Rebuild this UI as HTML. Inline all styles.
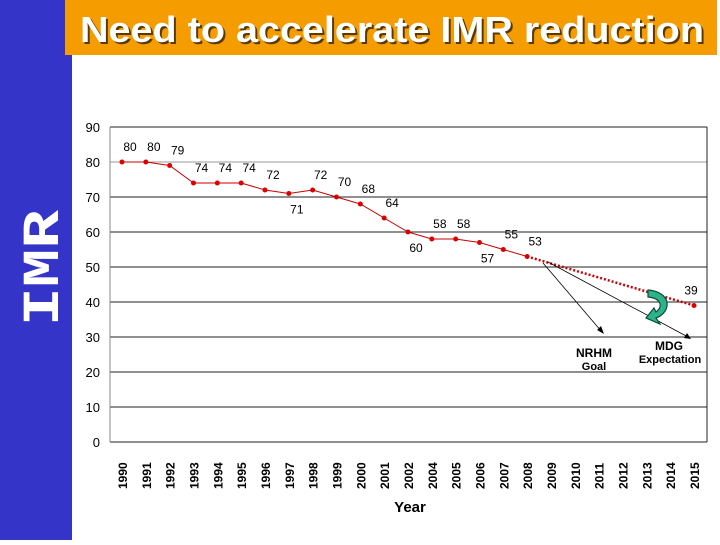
<!DOCTYPE html>
<html><head><meta charset="utf-8"><style>
body{margin:0;width:720px;height:540px;overflow:hidden;background:#fff;font-family:"Liberation Sans",sans-serif}
</style></head><body>
<svg width="720" height="540" viewBox="0 0 720 540">
<rect x="0" y="0" width="72" height="540" fill="#3434c8"/>
<rect x="65" y="0" width="652" height="55" fill="#f59c00"/>
<text x="82" y="44" font-size="36" font-weight="bold" fill="#5a3a00" textLength="624" lengthAdjust="spacingAndGlyphs">Need to accelerate IMR reduction</text>
<text x="80" y="42" font-size="36" font-weight="bold" fill="#fff" textLength="624" lengthAdjust="spacingAndGlyphs">Need to accelerate IMR reduction</text>
<text transform="translate(58,268) rotate(-90)" text-anchor="middle" font-size="52" font-weight="bold" fill="#fff" font-family="Liberation Mono, monospace" textLength="116" lengthAdjust="spacingAndGlyphs">IMR</text>
<g id="grid"></g><g id="plot"></g>
<text x="410" y="512" text-anchor="middle" font-size="15" font-weight="bold" fill="#000">Year</text>
</svg>
<script>
const years=["1990","1991","1992","1993","1994","1995","1996","1997","1998","1999","2000","2001","2002","2004","2005","2006","2007","2008","2009","2010","2011","2012","2013","2014","2015"];
const imrValues=[80,80,79,74,74,74,72,71,72,70,68,64,60,58,58,57,55,53];
const targetIndex=24, targetValue=39;
const yTicks=[0,10,20,30,40,50,60,70,80,90];
const labelBelow=[0,0,0,0,0,0,0,1,0,0,0,0,1,0,0,1,0,0];
const NS="http://www.w3.org/2000/svg";
const X0=110,X1=707,Y0=442,Y90=127;
const x=i=>122+i*(694-122)/24;
const y=v=>Y0-(v/90)*(Y0-Y90);
function mk(t,a,p){const e=document.createElementNS(NS,t);for(const k in a)e.setAttribute(k,a[k]);(p||document.getElementById('plot')).appendChild(e);return e;}
const g=document.getElementById('grid');
yTicks.forEach(v=>{
 const l=mk('line',{x1:X0,x2:X1,y1:y(v),y2:y(v),stroke:v===80?'#999':'#222','stroke-width':1},g);
 
 
 const t=mk('text',{x:X0-10,y:y(v)+5,'text-anchor':'end','font-size':13,fill:'#000'},g);
 t.textContent=v;
 
 
});
mk('line',{x1:X0,x2:X0,y1:Y90,y2:Y0,stroke:'#888'},g);
mk('line',{x1:X1,x2:X1,y1:Y90,y2:Y0,stroke:'#222'},g);
years.forEach((yr,i)=>{
 const t=mk('text',{transform:`translate(${x(i)+5},${489}) rotate(-90)`,'font-size':12,'font-weight':'bold',fill:'#000'});
 t.textContent=yr;
 
 
});
let pts=imrValues.map((v,i)=>x(i)+','+y(v)).join(' ');
const line=mk('polyline',{points:pts,fill:'none',stroke:'#c00','stroke-width':1});


const last=imrValues.length-1;
const proj=mk('line',{x1:x(last),y1:y(imrValues[last]),x2:x(targetIndex),y2:y(targetValue),stroke:'#c00','stroke-width':2.5,'stroke-dasharray':'2,2'});


imrValues.concat([targetValue]).forEach((v,j)=>{
 const i=j<imrValues.length?j:targetIndex;
 const c=mk('circle',{cx:x(i),cy:y(v),r:2.5,fill:'#d00'});
 
 
 const below=j<imrValues.length?labelBelow[j]:0;
 const t=mk('text',{x:x(i)+(j<imrValues.length?8:-3),y:below?y(v)+20:y(v)-11,'text-anchor':'middle','font-size':12,fill:'#000'});
 t.textContent=v;
 
 
});
mk('line',{x1:543,y1:263,x2:602,y2:332,stroke:'#000','stroke-width':0.8});
mk('polygon',{points:'604,334 597,330 601,326',fill:'#000'});
mk('line',{x1:548,y1:262,x2:688,y2:337,stroke:'#000','stroke-width':0.8});
mk('polygon',{points:'691,339 684,338 687,333',fill:'#000'});
mk('path',{d:'M648,290 C672,292 672,312 656,318 L660,324 L646,318 L654,308 L656,312 C664,306 660,298 648,297 Z',fill:'#2db38a',stroke:'#0b4d3a','stroke-width':1.2});
[['NRHM',594,357,12],['Goal',594,370,11],['MDG',669,350,12],['Expectation',670,363,11]].forEach(a=>{
 const t=mk('text',{x:a[1],y:a[2],'text-anchor':'middle','font-size':a[3],'font-weight':'bold',fill:'#000'});
 t.textContent=a[0];
 
 
});
</script>
</body></html>
